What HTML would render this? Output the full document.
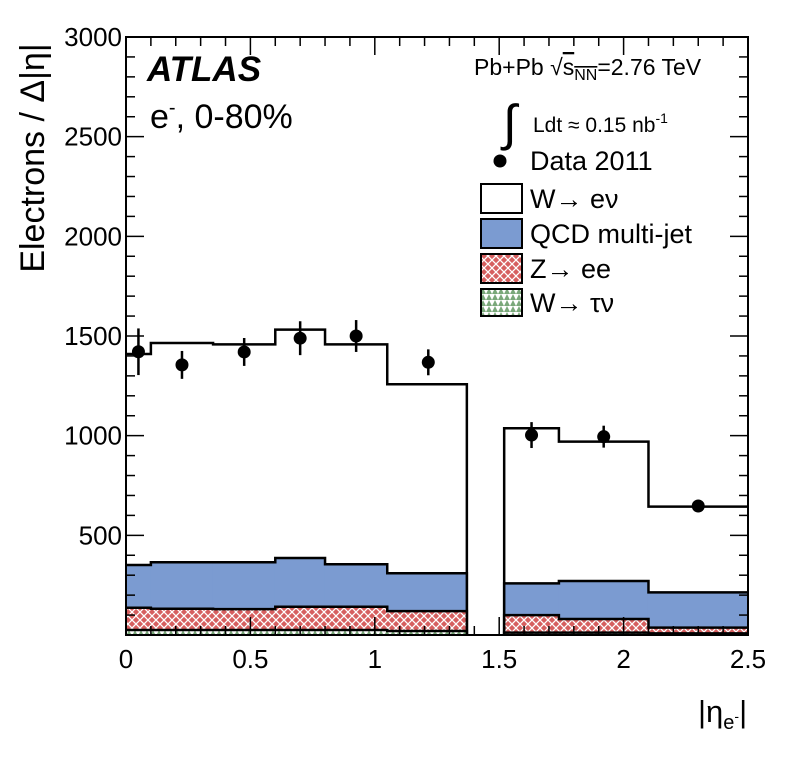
<!DOCTYPE html>
<html><head><meta charset="utf-8"><style>
body{margin:0;background:#fff}
svg text{font-family:"Liberation Sans",sans-serif}
</style></head><body>
<svg id="c" width="788" height="756" xmlns="http://www.w3.org/2000/svg">
<defs>
<pattern id="hz" width="8" height="8" patternUnits="userSpaceOnUse"><rect width="8" height="8" fill="#d65f5f"/><path d="M0 0L8 8M8 0L0 8" stroke="#fff" stroke-width="1.3"/></pattern>
<pattern id="ht" width="6" height="6" patternUnits="userSpaceOnUse"><rect width="6" height="6" fill="#fff"/><path d="M0 6L3 0L6 6" fill="#7aa87a"/></pattern>
</defs>
<g id="plot"></g>
<text x="147" y="81" font-size="35" font-weight="bold" font-style="italic">ATLAS</text>
<text x="150" y="128" font-size="34">e<tspan font-size="20" dy="-14">-</tspan><tspan dy="14">, 0-80%</tspan></text>
<text x="474" y="75" font-size="23">Pb+Pb <tspan>√</tspan><tspan text-decoration="overline">s<tspan font-size="16" dy="5">NN</tspan></tspan><tspan dy="-5">=2.76 TeV</tspan></text>
<text x="503" y="140" font-size="50">∫</text>
<text x="533" y="132" font-size="21">Ldt ≈ 0.15 nb<tspan font-size="14" dy="-9">-1</tspan></text>
<g>
<circle cx="500" cy="161" r="6.5" fill="#000"/>
<text x="530" y="170" font-size="27">Data 2011</text>
<rect x="481" y="184" width="41" height="29" fill="#fff" stroke="#000" stroke-width="2"/>
<text x="530" y="208" font-size="27">W→ eν</text>
<rect x="481" y="219" width="41" height="29" fill="#7b9bd1" stroke="#000" stroke-width="2"/>
<text x="530" y="243" font-size="27">QCD multi-jet</text>
<rect x="481" y="254" width="41" height="29" fill="url(#hz)" stroke="#000" stroke-width="2"/>
<text x="530" y="278" font-size="27">Z→ ee</text>
<rect x="481" y="289" width="41" height="27" fill="url(#ht)" stroke="#000" stroke-width="2"/>
<text x="530" y="312" font-size="27">W→ τν</text>
</g>
<text transform="translate(44,158) rotate(-90)" text-anchor="middle" font-size="34">Electrons / Δ|η|</text>
<text x="698" y="722" font-size="31">|η<tspan font-size="20" dy="7">e</tspan><tspan font-size="14" dy="-8">-</tspan><tspan dy="1">|</tspan></text>
</svg>
<script>
const edges=[0,0.1,0.35,0.6,0.8,1.05,1.37,1.52,1.74,2.1,2.5];
const wenu=[1410,1465,1458,1532,1458,1258,0,1037,970,644];
const qcd=[351,365,365,386,355,310,0,259,271,214];
const zee=[137,132,130,142,142,120,0,100,80,37];
const wtau=[25,25,25,25,25,20,0,12,12,8];
const dataX=[0.05,0.225,0.475,0.7,0.925,1.215,1.63,1.92,2.3];
const dataY=[1421,1355,1420,1489,1500,1368,1003,995,647];
const dataErr=[117,70,70,85,80,65,65,55,25];
const yTicks=[500,1000,1500,2000,2500,3000];
const xTicks=[0,0.5,1,1.5,2,2.5];
const X0=126,X1=748,Y0=635,Y1=37;
const sx=v=>X0+(X1-X0)*v/2.5, sy=v=>Y0-(Y0-Y1)*v/3000;
const NS="http://www.w3.org/2000/svg",g=document.getElementById('plot');
function mk(t,a){const e=document.createElementNS(NS,t);for(const k in a)e.setAttribute(k,a[k]);g.appendChild(e);return e;}
function hist(vals,fill,name){
 for(let i=0;i<vals.length;i++){if(!vals[i])continue;
  const r=mk('rect',{x:sx(edges[i])-0.5,y:sy(vals[i]),width:sx(edges[i+1])-sx(edges[i])+1,height:Y0-sy(vals[i]),fill:fill});
  
  }
 let d='';for(let i=0;i<vals.length;i++){const p=(i==0||(!vals[i-1]))?'M':'L';
  if(!vals[i]){d+=`L${sx(edges[i])},${Y0}`;continue;}
  if(p=='M')d+=`M${sx(edges[i])},${i==0?sy(vals[i]):Y0}`;
  d+=`L${sx(edges[i])},${sy(vals[i])}L${sx(edges[i+1])},${sy(vals[i])}`;
  if(i==5)d+=`L${sx(edges[i+1])},${Y0}`;}
 const l=mk('path',{d:d,fill:'none',stroke:'#000','stroke-width':2.5});
 
 
}
hist(wenu,'#fff','w-enu');hist(qcd,'#7b9bd1','qcd');hist(zee,'url(#hz)','z-ee');hist(wtau,'url(#ht)','w-taunu');
const fr=mk('rect',{x:X0,y:Y1,width:X1-X0,height:Y0-Y1,fill:'none',stroke:'#000','stroke-width':2});


for(let v=100;v<=3000;v+=100){const L=v%500==0?18:9,y=sy(v);
 mk('line',{x1:X0,x2:X0+L,y1:y,y2:y,stroke:'#000','stroke-width':1.5});
 mk('line',{x1:X1,x2:X1-L,y1:y,y2:y,stroke:'#000','stroke-width':1.5});}
for(let k=0;k<=25;k++){const v=k/10,L=k%5==0?18:9,x=sx(v);
 mk('line',{x1:x,x2:x,y1:Y0,y2:Y0-L,stroke:'#000','stroke-width':1.5});
 mk('line',{x1:x,x2:x,y1:Y1,y2:Y1+L,stroke:'#000','stroke-width':1.5});}
yTicks.forEach(v=>{const t=mk('text',{x:X0-4,y:sy(v)+9,'text-anchor':'end','font-size':26});t.textContent=v;
 
 });
xTicks.forEach(v=>{const t=mk('text',{x:sx(v),y:Y0+33,'text-anchor':'middle','font-size':26});t.textContent=v;
 
 });
dataX.forEach((v,i)=>{
 const l=mk('line',{x1:sx(v),x2:sx(v),y1:sy(dataY[i]+dataErr[i]),y2:sy(dataY[i]-dataErr[i]),stroke:'#000','stroke-width':2.5});
 
 
 const c=mk('circle',{cx:sx(v),cy:sy(dataY[i]),r:6.5,fill:'#000'});
 
 });
</script>
</body></html>
